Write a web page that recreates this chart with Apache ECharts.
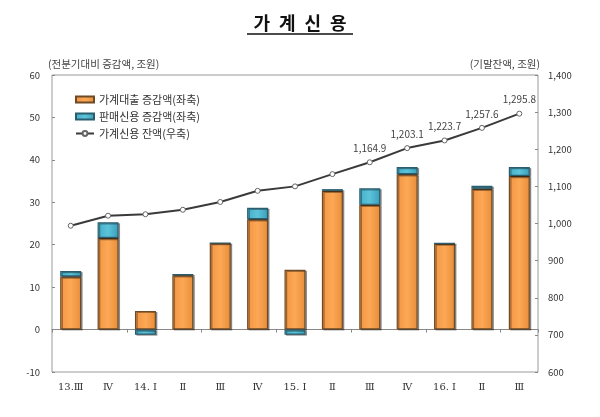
<!DOCTYPE html>
<html><head><meta charset="utf-8">
<script src="https://cdn.jsdelivr.net/npm/echarts@6/dist/echarts.min.js"></script>
<style>html,body{margin:0;padding:0;background:#fff}#c{width:600px;height:417px}</style>
</head><body><div id="c"></div>
<script>
var categories = ['13.Ⅲ','Ⅳ','14. Ⅰ','Ⅱ','Ⅲ','Ⅳ','15. Ⅰ','Ⅱ','Ⅲ','Ⅳ','16. Ⅰ','Ⅱ','Ⅲ'];
var loanChange = [12.5, 21.6, 4.4, 12.8, 20.4, 26.0, 14.1, 32.7, 29.4, 36.6, 20.3, 33.2, 36.2];
var salesCreditChange = [1.3, 3.7, -1.2, 0.3, 0, 2.7, -1.2, 0.4, 3.9, 1.7, 0, 0.7, 2.1];
var creditBalance = [994, 1021, 1025, 1037, 1058, 1088, 1100, 1133, 1164.9, 1203.1, 1223.7, 1257.6, 1295.8];
var labelFrom = 8;
var leftTicks = [-10, 60, 10];
var rightTicks = [600, 1400, 100];

var FONT = '"Noto Sans CJK KR", "Noto Sans", sans-serif';
function fmt(v){ return v.toLocaleString('en-US'); }
function fmt1(v){ return v.toLocaleString('en-US',{minimumFractionDigits:1,maximumFractionDigits:1}); }

var chart = echarts.init(document.getElementById('c'), null, {renderer:'canvas'});
var option = {
  backgroundColor:'#fff',
  animation:false,
  textStyle:{fontFamily:FONT},
  title:{text:'가\u2002계\u2002신\u2002용', left:'center', top:9,
    textStyle:{fontFamily:FONT, fontSize:18, fontWeight:'bold', color:'#111'}},
  graphic:[{type:'line', shape:{x1:247,y1:34,x2:353,y2:34}, style:{stroke:'#111', lineWidth:1.5}}],
  legend:{orient:'vertical', left:70, top:89, itemGap:6, itemWidth:18, itemHeight:6,
    textStyle:{fontFamily:FONT, fontSize:11, color:'#333'},
    data:[{name:'가계대출 증감액(좌축)', icon:'rect'},{name:'판매신용 증감액(좌축)', icon:'rect'},{name:'가계신용 잔액(우축)'}]},
  grid:{left:52, right:62, top:75, bottom:45, show:true, borderColor:'#999', borderWidth:1, containLabel:false},
  xAxis:[{type:'category', data:categories, position:'bottom',
      axisLine:{show:false, onZero:false}, axisTick:{show:false},
      axisLabel:{fontFamily:'"DejaVu Serif", serif', fontSize:10, color:'#333', margin:10, interval:0}},
    {type:'category', data:categories, position:'bottom',
      axisLine:{show:true, onZero:true, lineStyle:{color:'#888'}},
      axisTick:{show:true, length:3, lineStyle:{color:'#888'}}, axisLabel:{show:false}}],
  yAxis:[{type:'value', min:leftTicks[0], max:leftTicks[1], interval:leftTicks[2], position:'left',
      name:'(전분기대비 증감액, 조원)', nameLocation:'end', nameGap:6,
      nameTextStyle:{fontFamily:FONT, fontSize:10.5, color:'#444', align:'left', padding:[0,0,0,-4]},
      axisLine:{show:false}, axisTick:{show:true, inside:true, length:3, lineStyle:{color:'#888'}},
      splitLine:{show:false}, axisLabel:{fontSize:9.5, color:'#333', margin:12}},
    {type:'value', min:rightTicks[0], max:rightTicks[1], interval:rightTicks[2], position:'right',
      name:'(기말잔액, 조원)', nameLocation:'end', nameGap:6,
      nameTextStyle:{fontFamily:FONT, fontSize:10.5, color:'#444', align:'right', padding:[0,-2,0,0]},
      axisLine:{show:false}, axisTick:{show:true, inside:true, length:3, lineStyle:{color:'#888'}},
      splitLine:{show:false}, axisLabel:{fontSize:9.5, color:'#333', margin:10, formatter:function(v){return fmt(v);}}}],
  series:[
    {name:'가계대출 증감액(좌축)', type:'bar', stack:'s', barWidth:21, xAxisIndex:0, yAxisIndex:0,
      data:loanChange,
      itemStyle:{color:new echarts.graphic.LinearGradient(0,0,1,0,[{offset:0,color:'#F29442'},{offset:0.5,color:'#FCA856'},{offset:1,color:'#E88D38'}]),
        borderColor:'#6e4a26', borderWidth:1.2, shadowColor:'rgba(0,0,0,0.35)', shadowOffsetX:1.5, shadowOffsetY:1}},
    {name:'판매신용 증감액(좌축)', type:'bar', stack:'s', barWidth:21, xAxisIndex:0, yAxisIndex:0,
      data:salesCreditChange,
      itemStyle:{color:new echarts.graphic.LinearGradient(0,0,1,0,[{offset:0,color:'#45AFC9'},{offset:0.5,color:'#5CC3DA'},{offset:1,color:'#3A9EB8'}]),
        borderColor:'#2a5e6e', borderWidth:1.2, shadowColor:'rgba(0,0,0,0.35)', shadowOffsetX:1.5, shadowOffsetY:1}},
    {name:'가계신용 잔액(우축)', type:'line', xAxisIndex:0, yAxisIndex:1, z:5,
      symbol:'circle', symbolSize:5, showAllSymbol:true,
      lineStyle:{color:'#3a3a3a', width:2},
      itemStyle:{color:'#fff', borderColor:'#666', borderWidth:1},
      data:creditBalance.map(function(v,i){
        return {value:v, label:{show:i>=labelFrom, position:'top', distance:6,
          fontFamily:FONT, fontSize:10, color:'#444', formatter:function(p){return fmt1(p.value);}}};
      })}
  ]
};
chart.setOption(option);
</script></body></html>
